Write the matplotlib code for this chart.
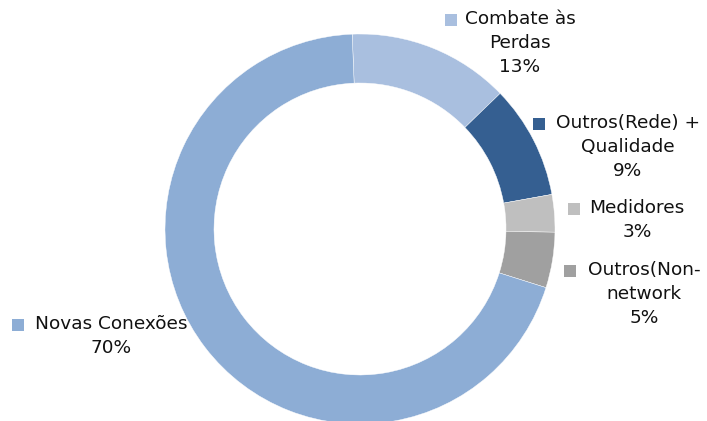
import matplotlib
matplotlib.use("Agg")
import matplotlib.pyplot as plt
from matplotlib.patches import Rectangle

categories = ["Combate às\nPerdas", "Outros(Rede) +\nQualidade", "Medidores",
              "Outros(Non-\nnetwork", "Novas Conexões"]
values = [13.4, 9.4, 3.1, 4.6, 69.5]
colors = ["#A9BFDF", "#355F91", "#BFBFBF", "#A0A0A0", "#8DADD5"]

W, H = 707, 421
fig = plt.figure(figsize=(W / 100, H / 100), dpi=100)
ax = fig.add_axes([0, 0, 1, 1])

cx, cy = 360, H - 229
R = 195
ax.pie(values, colors=colors, startangle=92.3, counterclock=False,
       center=(cx, cy), radius=R, frame=True,
       wedgeprops=dict(width=49, edgecolor="white", linewidth=0.3))
ax.set_xlim(0, W)
ax.set_ylim(0, H)
ax.set_aspect("equal")
ax.axis("off")

# label block: (text centre x, first-line centre y in px from top, square left x)
label_pos = [(520, 20, 445), (628, 124, 533), (637, 209, 568),
             (644, 271, 564), (111, 325, 12)]
fs = 13.3
for cat, v, col, (tx, ty, sx) in zip(categories, values, colors, label_pos):
    txt = f"{cat}\n{round(v):d}%"
    ax.text(tx, H - ty + 10, txt, ha="center", va="top", fontsize=fs,
            color="#111111", linespacing=1.42,
            fontfamily="DejaVu Sans")
    ax.add_patch(Rectangle((sx, H - ty - 6), 12, 12, color=col, lw=0))

fig.savefig("out.png", dpi=100)
